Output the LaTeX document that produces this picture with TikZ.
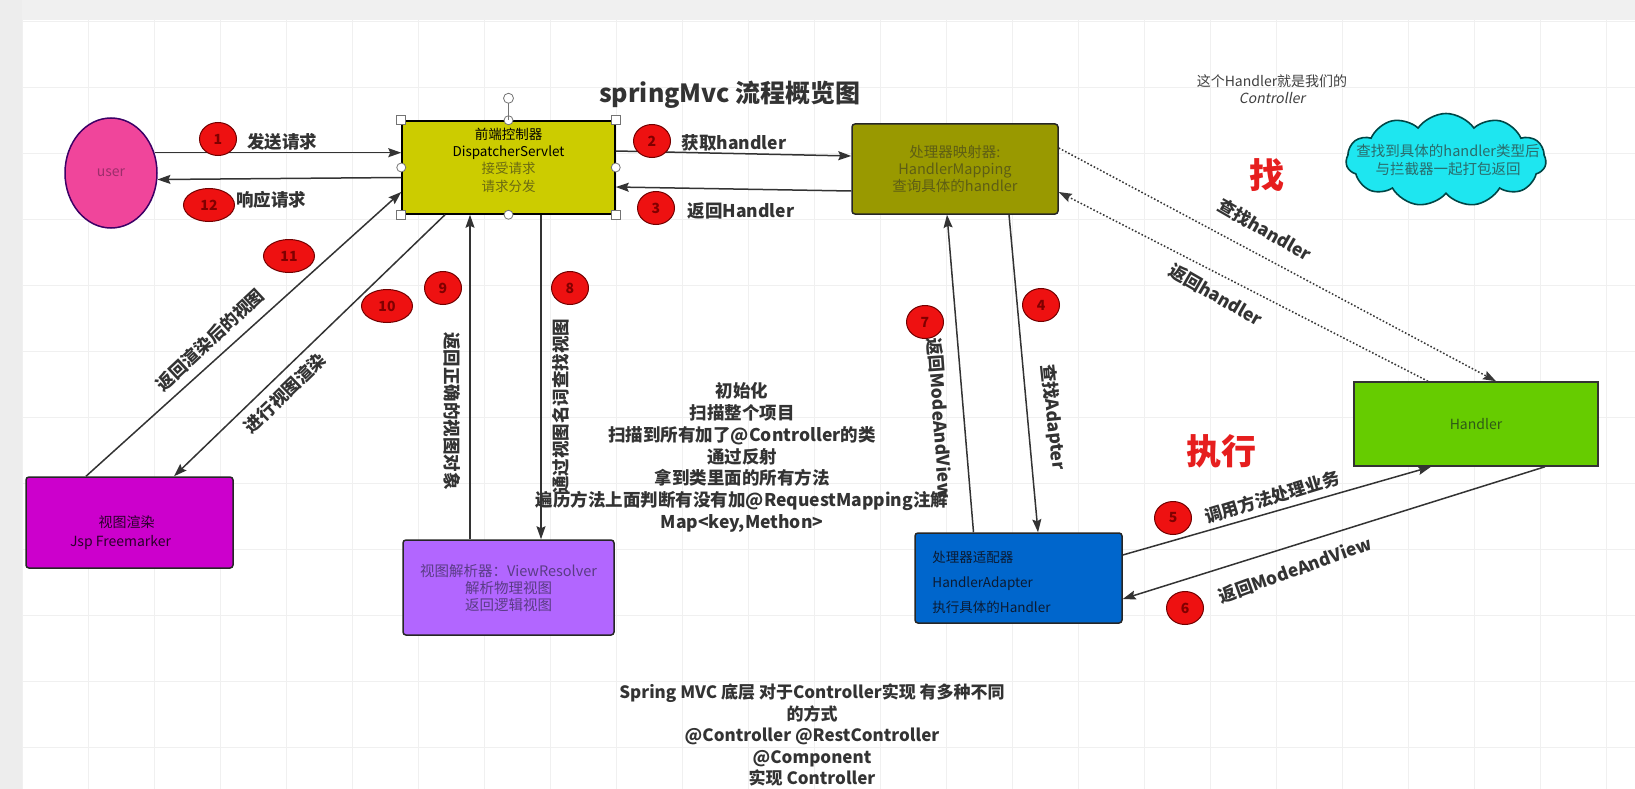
\documentclass[tikz,border=0pt]{standalone}
\usepackage{fontspec}
\setmainfont{Noto Sans CJK SC}[AutoFakeSlant=0.2]
\usepackage{xcolor}
\usetikzlibrary{arrows.meta, shapes.geometric, shapes.symbols}

\definecolor{garis}{HTML}{333333}
\definecolor{kuning}{HTML}{CCCC00}
\definecolor{zaitun}{HTML}{999900}
\definecolor{biru}{HTML}{0066CC}
\definecolor{hijau}{HTML}{66CC00}
\definecolor{ungu}{HTML}{B266FF}
\definecolor{lembayung}{HTML}{CC00CC}
\definecolor{merahjambu}{HTML}{F0459B}
\definecolor{sian}{HTML}{1EE6F0}
\definecolor{merah}{HTML}{EE1111}
\definecolor{merahteks}{HTML}{E61E1E}
\definecolor{tuser}{HTML}{9C2E6B}
\definecolor{tkuning}{HTML}{6B6B12}
\definecolor{tzaitun}{HTML}{5E5E14}
\definecolor{tbiru}{HTML}{0B1B33}
\definecolor{thijau}{HTML}{2F5A17}
\definecolor{tungu}{HTML}{5A3C85}
\definecolor{tlembayung}{HTML}{2B002B}
\definecolor{tawan}{HTML}{2A6B6B}

\begin{document}
\begin{tikzpicture}[x=1pt, y=-1pt,
    blok/.style={draw=black!85, line width=1.5pt, inner sep=0pt, align=center,
                 font=\fontsize{14}{17.5}\selectfont},
    alur/.style={-{Stealth[length=13pt, width=9pt, inset=2pt]}, draw=garis, line width=1.5pt},
    cari/.style={alur, dash pattern=on 1.6pt off 2pt, draw=black!78},
    nomor/.style={ellipse, draw=red!45!black, line width=1pt, fill=merah, inner sep=0pt,
                  minimum width=37pt, minimum height=33pt, text=red!50!black,
                  font=\fontsize{14}{14}\selectfont\bfseries},
    nomor2/.style={nomor, minimum width=51pt},
    teks/.style={text=garis, font=\fontsize{17.5}{21}\selectfont\bfseries, inner sep=0pt}
  ]
    % latar dan grid
    \fill[white] (0,0) rectangle (1635,789);
    \useasboundingbox (0,0) rectangle (1635,789);
    \fill[black!6] (0,0) rectangle (1635,20);
    \fill[black!7] (0,0) rectangle (22,789);
    \foreach \gx in {22,88,...,1635}
      \draw[black!6, line width=0.7pt] (\gx,20) -- (\gx,789);
    \foreach \gy in {21,87,...,789}
      \draw[black!6, line width=0.7pt] (22,\gy) -- (1635,\gy);

    % kotak utama
    \node[blok, ellipse, fill=merahjambu, draw=black!60!red!60!blue, minimum width=92pt,
          minimum height=110pt, text=tuser] (user) at (111,173) {user};
    \node[blok, fill=kuning, draw=black, minimum width=213pt, minimum height=93pt] (disp) at (508.5,167.5) {};
    \node[align=center, inner sep=0pt, font=\fontsize{13.5}{17.3}\selectfont] (disptxt)
      at ([yshift=7.5pt]disp.center)
      {前端控制器\\DispatcherServlet\\\textcolor{tkuning}{接受请求}\\\textcolor{tkuning}{请求分发}};
    \node[blok, fill=zaitun, rounded corners=3pt, minimum width=206pt, minimum height=90pt,
          text=tzaitun, font=\fontsize{14.5}{17}\selectfont] (hm) at (955,169)
      {处理器映射器:\\HandlerMapping\\查询具体的handler};
    \node[blok, fill=biru, rounded corners=3pt, minimum width=207pt, minimum height=90pt] (ha) at (1018.5,578) {};
    \node[anchor=west, align=left, inner sep=0pt, text=tbiru, font=\fontsize{13.5}{25}\selectfont] (hatxt)
      at ([xshift=18pt, yshift=-4pt]ha.west) {处理器适配器\\HandlerAdapter\\执行具体的Handler};
    \node[blok, fill=hijau, draw=black!80, minimum width=244pt, minimum height=84pt, text=thijau] (handler)
      at (1476,424) {Handler};
    \node[blok, fill=ungu, rounded corners=3pt, minimum width=211pt, minimum height=95pt, text=tungu,
          font=\fontsize{14.5}{17}\selectfont] (vr) at (508.5,587.5)
      {视图解析器：ViewResolver\\解析物理视图\\返回逻辑视图};
    \node[blok, fill=lembayung, rounded corners=3pt, minimum width=207pt, minimum height=91pt] (jsp) at (129.5,522.5) {};
    \node[align=center, inner sep=0pt, text=tlembayung, font=\fontsize{14}{19}\selectfont] (jsptxt)
      at ([xshift=-9pt, yshift=-10pt]jsp.center) {\hspace*{12pt}视图渲染\\Jsp Freemarker};
    \node[cloud, cloud puffs=11, cloud puff arc=110, aspect=2.15, draw=teal!55!black, line width=1.6pt,
          fill=sian, minimum width=200pt, minimum height=93pt, inner sep=0pt] (awan) at (1446,160) {};
    \node[text=tawan, align=center, inner sep=0pt, font=\fontsize{14.5}{17.5}\selectfont] (awantxt)
      at (1448,160) {查找到具体的handler类型后\\与拦截器一起打包返回};

    % judul dan catatan
    \node[teks, font=\fontsize{25}{29}\selectfont\bfseries] (judul) at (730,95) {springMvc 流程概览图};
    \node[text=black!75, align=center, inner sep=0pt, font=\fontsize{14}{16.5}\selectfont] (catatan)
      at (1272,89) {这个Handler就是我们的\\\textit{Controller}};
    \node[text=merahteks, font=\fontsize{35}{35}\selectfont\bfseries] (cari) at (1267,175) {找};
    \node[text=merahteks, font=\fontsize{35}{35}\selectfont\bfseries] (jalan) at (1221,451) {执行};
    \node[teks, align=center, font=\fontsize{17.5}{21.8}\selectfont\bfseries] (init) at (742,457.5)
      {初始化\\扫描整个项目\\扫描到所有加了@Controller的类\\通过反射\\拿到类里面的所有方法\\
       遍历方法上面判断有没有加@RequestMapping注解\\Map<key,Methon>};
    \node[teks, align=center, font=\fontsize{17}{21.5}\selectfont\bfseries] (bawah) at (812,735)
      {Spring MVC 底层 对于Controller实现 有多种不同\\的方式\\@Controller @RestController\\
       @Component\\实现 Controller};

    % alur
    \draw[alur] (user.25) -- (disp.west |- user.25);
    \draw[alur] ([yshift=-10pt]disp.west) -- (user.-8);
    \draw[alur] ([yshift=16.5pt]disp.east) -- ([yshift=13pt]hm.west);
    \draw[alur] ([yshift=-22pt]hm.west) -- ([yshift=-19.5pt]disp.east);
    \draw[cari] ([yshift=21pt]hm.east) -- ([xshift=20pt]handler.north);
    \draw[cari] ([xshift=-48pt]handler.north) -- ([yshift=-23pt]hm.east);
    \draw[alur] ([xshift=54pt]hm.south) -- ([xshift=19.5pt]ha.north);
    \draw[alur] ([yshift=23pt]ha.east) -- ([xshift=-45pt]handler.south);
    \draw[alur] ([xshift=69pt]handler.south) -- ([yshift=-21pt]ha.east);
    \draw[alur] ([xshift=-45pt]ha.north) -- ([xshift=-8pt]hm.south);
    \draw[alur] ([xshift=32.5pt]disp.south) -- ([xshift=32.5pt]vr.north);
    \draw[alur] ([xshift=-38.5pt]vr.north) -- ([xshift=-38.5pt]disp.south);
    \draw[alur] ([xshift=-63.5pt]disp.south) -- ([xshift=44.5pt]jsp.north);
    \draw[alur] ([xshift=-43.5pt]jsp.north) -- ([yshift=-24.5pt]disp.west);

    % nomor langkah
    \foreach \n/\px/\py in {1/218/139, 2/652/141, 3/656/208, 4/1041/305, 5/1173/518,
                            6/1185/608, 7/925/322, 8/570/288, 9/443/288}
      \node[nomor] (n\n) at (\px,\py) {\n};
    \foreach \n/\px/\py in {10/387/306, 11/289/256, 12/209/205}
      \node[nomor2] (n\n) at (\px,\py) {\n};

    % label alur
    \node[teks] (l1) at (282,142) {发送请求};
    \node[teks] (l12) at (271,200) {响应请求};
    \node[teks] (l2) at (734,143) {获取handler};
    \node[teks] (l3) at (741,211) {返回Handler};
    \node[teks, rotate=-30] (lcari) at (1265,230) {查找handler};
    \node[teks, rotate=-30] (lbalik) at (1216,295) {返回handler};
    \node[teks, rotate=-84] (l4) at (1053,417) {查找Adapter};
    \node[teks, rotate=17] (l5) at (1272,497) {调用方法处理业务};
    \node[teks, rotate=20] (l6) at (1295,570) {返回ModeAndView};
    \node[teks, rotate=-86] (l7) at (940,418) {返回ModeAndView};
    \node[teks, rotate=90] (l8) at (561,406) {通过视图名词查找视图};
    \node[teks, rotate=-90] (l9) at (452,411) {返回正确的视图对象};
    \node[teks, rotate=44] (l10) at (285,393) {进行视图渲染};
    \node[teks, rotate=43] (l11) at (210,340) {返回渲染后的视图};

    % pegangan seleksi
    \foreach \sudut in {north west, north east, south west, south east}
      \draw[black!55, fill=white, line width=0.8pt] ([shift={(-4.5,-4.5)}]disp.\sudut) rectangle ++(9,9);
    \foreach \sisi in {north, south, east, west}
      \draw[black!55, fill=white, line width=0.8pt] (disp.\sisi) circle[radius=4.5pt];
    \draw[black!55, line width=0.8pt] (disp.north) -- ++(0,-17) coordinate (putar);
    \draw[black!55, fill=white, line width=0.8pt] ([yshift=5pt]putar) circle[radius=5pt];
  \end{tikzpicture}
\end{document}
